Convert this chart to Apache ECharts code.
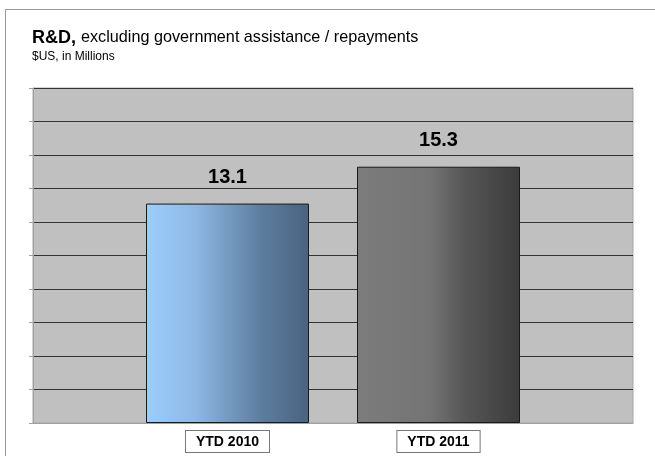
<!DOCTYPE html>
<html><head><meta charset="utf-8">
<script src="https://cdn.jsdelivr.net/npm/echarts@6/dist/echarts.min.js"></script>
<style>html,body{margin:0;padding:0;background:#fff}#c{width:655px;height:456px}</style>
</head><body><div id="c"></div>
<script>
var categories = ['YTD 2010', 'YTD 2011'];
var values = [13.1, 15.3];
var yMin = 0, yMax = 20, yInterval = 2;

var grad1 = new echarts.graphic.LinearGradient(0, 0, 1, 0, [
  {offset: 0, color: '#9ccdfd'}, {offset: 0.3, color: '#8fb8e4'},
  {offset: 0.7, color: '#5e7e9f'}, {offset: 1, color: '#4a6280'}]);
var grad2 = new echarts.graphic.LinearGradient(0, 0, 1, 0, [
  {offset: 0, color: '#7c7c7c'}, {offset: 0.45, color: '#747474'},
  {offset: 0.65, color: '#575757'}, {offset: 1, color: '#3b3b3b'}]);
var fills = [grad1, grad2];

var chart = echarts.init(document.getElementById('c'));
chart.setOption({
  animation: false,
  backgroundColor: '#fff',
  title: {
    left: 27, top: 24,
    text: '{b|R&D,} {n|excluding government assistance / repayments}',
    subtext: '$US, in Millions',
    itemGap: 4,
    textStyle: {fontWeight: 'normal', rich: {
      b: {fontFamily: 'Liberation Sans', fontSize: 18, fontWeight: 'bold', color: '#000'},
      n: {fontFamily: 'Liberation Sans', fontSize: 16.2, fontWeight: 'normal', color: '#000'}
    }},
    subtextStyle: {fontFamily: 'Liberation Sans', fontSize: 12, color: '#000'}
  },
  graphic: [
    {type: 'line', shape: {x1: 5.5, y1: 9.5, x2: 655, y2: 9.5}, style: {stroke: '#999', lineWidth: 1}},
    {type: 'line', shape: {x1: 5.5, y1: 9.5, x2: 5.5, y2: 456}, style: {stroke: '#999', lineWidth: 1}}
  ],
  grid: [
    {left: 33, right: 22, top: 88, bottom: 33, show: true, backgroundColor: '#c0c0c0', borderColor: '#a6a6a6', borderWidth: 1},
    {left: 122, width: 422, top: 88, bottom: 33}
  ],
  xAxis: [
    {gridIndex: 0, type: 'category', data: [''], axisLine: {show: true, lineStyle: {color: '#a0a0a0'}}, axisTick: {show: false}, axisLabel: {show: false}},
    {gridIndex: 1, type: 'category', data: categories, axisLine: {show: false}, axisTick: {show: false},
     axisLabel: {margin: 8, fontFamily: 'Liberation Sans', fontSize: 14, fontWeight: 'bold', color: '#000',
       backgroundColor: '#fff', borderColor: '#777', borderWidth: 1, padding: [4, 10, 3, 10]}}
  ],
  yAxis: [
    {gridIndex: 0, type: 'value', min: yMin, max: yMax, interval: yInterval,
     axisLine: {show: true, lineStyle: {color: '#a0a0a0'}}, axisTick: {show: true, length: 4, lineStyle: {color: '#a0a0a0'}},
     axisLabel: {show: false}, splitLine: {show: true, lineStyle: {color: '#333', width: 1}}},
    {gridIndex: 1, type: 'value', min: yMin, max: yMax, interval: yInterval, show: false, splitLine: {show: false}}
  ],
  series: [{
    type: 'bar', xAxisIndex: 1, yAxisIndex: 1, barWidth: 163,
    data: values.map(function (v, i) { return {value: v, itemStyle: {color: fills[i]}}; }),
    itemStyle: {borderColor: '#1a1a1a', borderWidth: 1},
    label: {show: true, position: 'top', distance: 16, fontFamily: 'Liberation Sans', fontSize: 20, fontWeight: 'bold', color: '#000'}
  }]
});
</script></body></html>
